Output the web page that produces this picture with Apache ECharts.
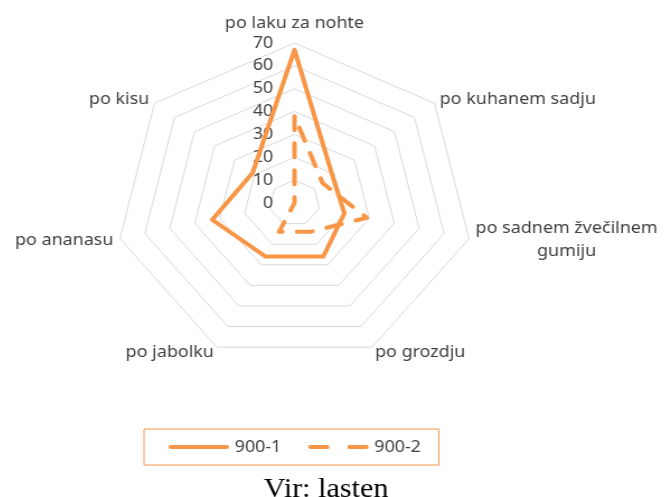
<!DOCTYPE html>
<html>
<head>
<meta charset="utf-8">
<script src="https://cdn.jsdelivr.net/npm/echarts@6/dist/echarts.min.js"></script>
<style>
  html, body { margin: 0; padding: 0; overflow: hidden; background: #fff; }
  /* original slika je vodoravno raztegnjena */
  #main { width: 665px; height: 497px; transform: scaleX(1.119); transform-origin: 294.5px 0; }
</style>
</head>
<body>
<div id="main"></div>
<script>
// osi v smeri urinega kazalca, od vrha
const categories = ["po laku za nohte", "po kuhanem sadju", "po sadnem žvečilnem\ngumiju", "po grozdju", "po jabolku", "po ananasu", "po kisu"];
const seriesNames = ["900-1", "900-2"];
const values9001 = [67, 19, 20, 26, 26, 33, 21];
const values9002 = [38, 14, 29, 14, 14, 0, 0];
const ringTicks = [0, 10, 20, 30, 40, 50, 60, 70];

const orange = "#f79646";
const textColor = "#404040";

// echarts postavi osi v nasprotni smeri urinega kazalca -> obrnemo (prva ostane zgoraj)
const order = [0].concat(categories.map((c, i) => i).slice(1).reverse());
const pick = arr => order.map(i => arr[i]);

const tickMax = ringTicks[ringTicks.length - 1];
const tickStep = ringTicks[1] - ringTicks[0];

let myChart = echarts.init(document.getElementById("main"));
myChart.setOption({
  animation: false,
  textStyle: { fontFamily: "Noto Sans" },
  title: {
    text: "Vir: lasten",
    left: 267,
    top: 476,
    padding: 0,
    textStyle: { fontFamily: "Liberation Serif", fontSize: 27, fontWeight: "normal", color: "#000" },
  },
  legend: {
    left: 160,
    top: 429,
    padding: [10, 16, 10, 22],
    itemGap: 24,
    itemWidth: 54,
    itemHeight: 4,
    borderColor: orange,
    borderWidth: 1,
    textStyle: { fontSize: 16, color: textColor },
    data: [
      {
        name: seriesNames[0],
        icon: "path://M2,0 H52 A2,2 0 0 1 52,4 H2 A2,2 0 0 1 2,0 Z",
        itemStyle: { color: orange, borderWidth: 0 },
      },
      {
        name: seriesNames[1],
        icon: "path://M2,0 H17 A2,2 0 0 1 17,4 H2 A2,2 0 0 1 2,0 Z M37,0 H52 A2,2 0 0 1 52,4 H37 A2,2 0 0 1 37,0 Z",
        itemStyle: { color: orange, borderWidth: 0 },
      },
    ],
  },
  // samo za oznake 0..70 ob zgornji osi
  grid: { left: 294.5, top: 43, width: 1, height: 160, outerBoundsMode: "none" },
  xAxis: { type: "value", show: false },
  yAxis: {
    type: "value",
    min: ringTicks[0],
    max: tickMax,
    interval: tickStep,
    axisLine: { show: false },
    axisTick: { show: false },
    splitLine: { show: false },
    axisLabel: { margin: 19, fontSize: 16, color: textColor },
  },
  radar: {
    center: [294.5, 203],
    radius: 160,
    startAngle: 90,
    shape: "polygon",
    splitNumber: ringTicks.length - 1,
    nameGap: 6,
    indicator: pick(categories).map(name => ({ name: name, min: ringTicks[0], max: tickMax })),
    axisName: {
      color: textColor,
      fontSize: 16,
      formatter: function (name) {
        if (name.indexOf("\n") >= 0) {
          return name.split("\n").map(s => "{two|" + s + "}").join("\n");
        }
        if (name === categories[0]) return "{top|" + name + "}";
        return "{one|" + name + "}";
      },
      rich: {
        top: { fontSize: 16, color: textColor, lineHeight: 28 },
        one: { fontSize: 16, color: textColor, lineHeight: 20 },
        two: { fontSize: 16, color: textColor, lineHeight: 23, align: "center" },
      },
    },
    axisLine: { show: false },
    axisTick: { show: false },
    axisLabel: { show: false },
    splitArea: { show: false },
    splitLine: { lineStyle: { color: "#d9d9d9", width: 1 } },
  },
  series: [
    {
      type: "radar",
      symbol: "none",
      data: [
        {
          name: seriesNames[0],
          value: pick(values9001),
          itemStyle: { color: orange },
          lineStyle: { color: orange, width: 4, cap: "round", join: "round" },
        },
        {
          name: seriesNames[1],
          value: pick(values9002),
          itemStyle: { color: orange },
          lineStyle: { color: orange, width: 4, type: [14, 13], cap: "round", join: "round" },
        },
      ],
    },
  ],
});
</script>
</body>
</html>
